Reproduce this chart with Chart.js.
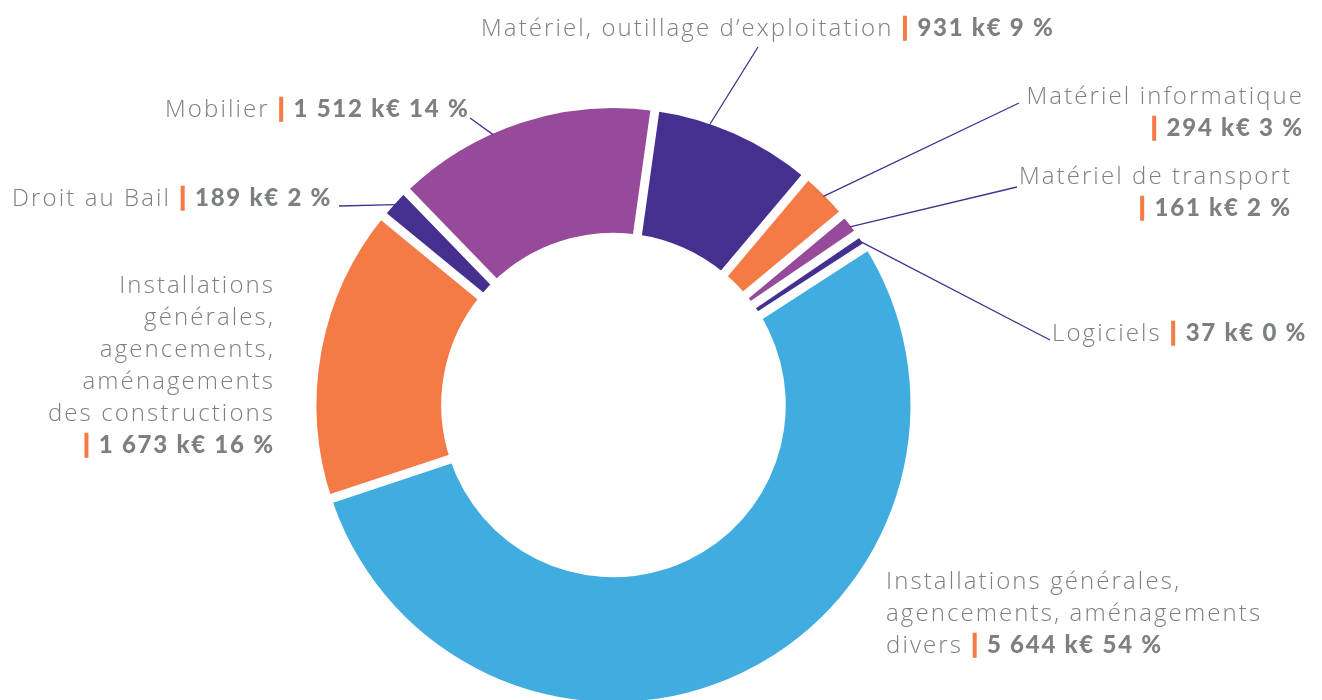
<!DOCTYPE html>
<html lang="fr">
<head>
    <meta charset="UTF-8">
    <title>Immobilisations</title>
    <script src="https://cdn.jsdelivr.net/npm/chart.js@4.4.1/dist/chart.umd.min.js"></script>
    <style>
        html, body { margin: 0; padding: 0; background: #fff; overflow: hidden; }
        #wrap { position: absolute; left: 0; top: 0; width: 1322px; height: 712px; }
    </style>
</head>
<body>
<div id="wrap"><canvas id="chart01"></canvas></div>

<script>
    // ---- données (k€ / %) ----
    var labels = [
        'Matériel, outillage d’exploitation',
        'Matériel informatique',
        'Matériel de transport',
        'Logiciels',
        'Installations générales, agencements, aménagements divers',
        'Installations générales, agencements, aménagements des constructions',
        'Droit au Bail',
        'Mobilier'
    ];
    var amounts = [931, 294, 161, 37, 5644, 1673, 189, 1512];
    var percents = [9, 3, 2, 0, 54, 16, 2, 14];

    var colors = ['#45308f', '#f47b46', '#974a9a', '#45308f', '#41ace0', '#f47b46', '#45308f', '#974a9a'];

    // placement des étiquettes : x/y = ligne de base de la 1re ligne,
    // breaks = indices des mots qui commencent une nouvelle ligne,
    // valueNewLine = montant sur sa propre ligne, lead = trait vers le secteur
    var labelLayout = [
        { x: 481, y: 36, align: 'left', breaks: [], valueNewLine: false, lead: { x: 758, y: 47, at: 0.34 } },
        { x: 1302, y: 104, align: 'right', breaks: [], valueNewLine: true, lead: { x: 1019, y: 103, at: 0.5 } },
        { x: 1290, y: 184, align: 'right', breaks: [], valueNewLine: true, lead: { x: 1017, y: 187, at: 0.5 } },
        { x: 1052, y: 341, align: 'left', breaks: [], valueNewLine: false, lead: { x: 1050, y: 340, at: 0.5 } },
        { x: 886, y: 589, align: 'left', breaks: [2, 4], valueNewLine: false, lead: null },
        { x: 273, y: 293, align: 'right', breaks: [1, 2, 3, 4], valueNewLine: true, lead: null },
        { x: 12, y: 206, align: 'left', breaks: [], valueNewLine: false, lead: { x: 339, y: 206, at: 0.5 } },
        { x: 165, y: 117, align: 'left', breaks: [], valueNewLine: false, lead: { x: 470, y: 118, at: 0.386 } }
    ];

    var LINE_H = 32;
    var GAP = 9;            // espace blanc entre secteurs
    var GREY = '#7c8081';
    var ORANGE = '#f47b46';
    var NAME = { font: '300 24px "Open Sans", Lato, sans-serif', spacing: 2.1 };
    var VALUE = { font: '900 24px Lato, "Open Sans", sans-serif', spacing: 1.75 };

    function fmt(n) {
        return String(n).replace(/\B(?=(\d{3})+(?!\d))/g, ' ');
    }

    // construit les lignes de texte (segments avec style) d'une étiquette
    function buildLines(i) {
        var lay = labelLayout[i];
        var words = labels[i].split(' ');
        var lines = [];
        var cur = [];
        words.forEach(function (w, k) {
            if (lay.breaks.indexOf(k) >= 0) {
                lines.push(cur.join(' '));
                cur = [];
            }
            cur.push(w);
        });
        lines.push(cur.join(' '));

        var value = [
            { t: '|', st: VALUE, color: ORANGE, bold: true },
            { t: ' ' + fmt(amounts[i]) + ' k€ ' + percents[i] + ' %', st: VALUE, color: GREY }
        ];
        var out = lines.map(function (l) { return [{ t: l, st: NAME, color: GREY }]; });
        if (lay.valueNewLine) {
            out.push(value);
        } else {
            out[out.length - 1][0].t += ' ';
            out[out.length - 1] = out[out.length - 1].concat(value);
        }
        return out;
    }

    function setStyle(ctx, st) {
        ctx.font = st.font;
        ctx.letterSpacing = st.spacing + 'px';
    }

    function drawSegments(ctx, segs, x, y, align) {
        var w = 0;
        segs.forEach(function (s, k) {
            setStyle(ctx, s.st);
            w += ctx.measureText(s.t).width;
            if (k === segs.length - 1) w -= s.st.spacing;
        });
        var cx = align === 'right' ? x - w : x;
        segs.forEach(function (s) {
            setStyle(ctx, s.st);
            ctx.fillStyle = s.color;
            ctx.fillText(s.t, cx, y);
            if (s.bold) {
                // barre orange plus épaisse
                ctx.strokeStyle = s.color;
                ctx.lineWidth = 1.4;
                ctx.strokeText(s.t, cx, y);
            }
            cx += ctx.measureText(s.t).width;
        });
    }

    // bandes blanches parallèles entre les secteurs
    function drawGaps(ctx, arcs) {
        var n = arcs.length;
        for (var i = 0; i < n; i++) {
            var a = arcs[i], b = arcs[(i + 1) % n];
            var tinyA = (a.endAngle - a.startAngle) * a.innerRadius < GAP;
            var tinyB = (b.endAngle - b.startAngle) * b.innerRadius < GAP;
            var from = -GAP / 2;
            if (tinyA) from = 0;
            if (tinyB) from = -GAP;
            ctx.save();
            ctx.translate(a.x, a.y);
            ctx.rotate(a.endAngle);
            ctx.fillStyle = '#ffffff';
            ctx.fillRect(a.innerRadius - 3, from, a.outerRadius - a.innerRadius + 6, GAP);
            ctx.restore();
        }
    }

    var calloutPlugin = {
        id: 'callouts',
        afterDatasetsDraw: function (chart) {
            var ctx = chart.ctx;
            var arcs = chart.getDatasetMeta(0).data;
            drawGaps(ctx, arcs);
            ctx.save();
            ctx.textBaseline = 'alphabetic';
            ctx.textAlign = 'left';
            labelLayout.forEach(function (lay, i) {
                if (lay.lead) {
                    var a = arcs[i];
                    var ang = a.startAngle + (a.endAngle - a.startAngle) * lay.lead.at;
                    var r = a.outerRadius - 1;
                    ctx.beginPath();
                    ctx.moveTo(lay.lead.x, lay.lead.y);
                    ctx.lineTo(a.x + Math.cos(ang) * r, a.y + Math.sin(ang) * r);
                    ctx.strokeStyle = '#45308f';
                    ctx.lineWidth = 1.3;
                    ctx.stroke();
                }
                buildLines(i).forEach(function (segs, k) {
                    drawSegments(ctx, segs, lay.x, lay.y + k * LINE_H, lay.align);
                });
            });
            ctx.restore();
        }
    };

    var chart_1 = new Chart(document.getElementById('chart01'), {
        type: 'doughnut',
        data: {
            labels: labels,
            datasets: [{
                data: amounts,
                backgroundColor: colors,
                borderWidth: 0
            }]
        },
        options: {
            responsive: true,
            maintainAspectRatio: false,
            animation: false,
            rotation: 8,
            cutout: '58%',
            layout: { padding: { top: 108, bottom: 10, left: 0, right: 95 } },
            plugins: {
                legend: { display: false },
                tooltip: { enabled: false }
            }
        },
        plugins: [calloutPlugin]
    });
</script>
</body>
</html>
